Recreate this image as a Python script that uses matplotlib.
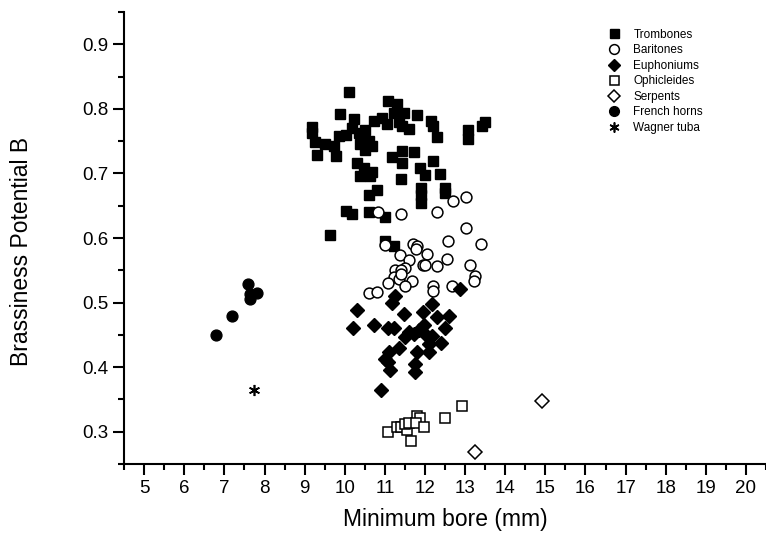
import matplotlib
matplotlib.use("Agg")
import matplotlib.pyplot as plt
from matplotlib.ticker import MultipleLocator

plt.rcParams['font.family'] = ['Liberation Sans', 'DejaVu Sans']

# Trombones
tromb_x = [10.10, 9.89, 9.19, 9.19, 9.27, 9.31, 9.52, 9.77, 9.85, 10.02, 10.22, 10.18, 10.35, 10.51,
           10.72, 10.93, 11.09, 11.30, 11.22, 11.47, 11.05, 11.34, 11.59, 11.43, 11.80, 12.15, 12.21,
           12.30, 13.08, 13.08, 13.43, 13.50, 9.73, 10.39, 10.60, 10.68, 10.51, 10.31, 10.47, 10.68,
           10.39, 10.64, 10.80, 10.60, 11.18, 11.43, 11.72, 11.43, 11.88, 12.01, 12.21, 12.38, 11.39,
           11.91, 11.91, 11.91, 12.50, 12.50, 10.02, 10.18, 10.60, 11.01, 9.64, 11.01, 11.24]
tromb_y = [0.826, 0.792, 0.772, 0.762, 0.748, 0.729, 0.745, 0.727, 0.758, 0.760, 0.784, 0.771, 0.763, 0.768,
           0.781, 0.786, 0.812, 0.807, 0.794, 0.794, 0.776, 0.779, 0.769, 0.773, 0.790, 0.781, 0.773,
           0.757, 0.768, 0.754, 0.774, 0.779, 0.742, 0.745, 0.750, 0.742, 0.737, 0.716, 0.709, 0.703,
           0.696, 0.696, 0.675, 0.667, 0.726, 0.734, 0.733, 0.716, 0.709, 0.698, 0.719, 0.699, 0.691,
           0.677, 0.667, 0.655, 0.677, 0.670, 0.642, 0.637, 0.640, 0.633, 0.605, 0.596, 0.587]

# Baritones
bari_x = [10.83, 11.40, 12.30, 12.71, 13.03, 13.03, 12.57, 13.40, 11.70, 11.80, 11.77, 11.01, 11.37,
          11.59, 12.05, 12.56, 11.95, 12.01, 12.30, 13.11, 11.51, 11.26, 11.39, 11.22, 11.34, 13.25,
          13.21, 11.67, 11.09, 11.49, 12.21, 12.21, 12.67, 10.60, 10.80, 11.39]
bari_y = [0.640, 0.637, 0.640, 0.658, 0.663, 0.615, 0.596, 0.590, 0.591, 0.588, 0.583, 0.589, 0.573,
          0.566, 0.576, 0.567, 0.559, 0.559, 0.556, 0.558, 0.553, 0.551, 0.550, 0.540, 0.537, 0.541,
          0.533, 0.534, 0.530, 0.526, 0.526, 0.518, 0.525, 0.515, 0.516, 0.545]

# Euphoniums
euph_x = [12.88, 11.26, 11.19, 10.31, 11.48, 12.17, 11.94, 12.30, 12.59, 10.20, 10.72, 11.09, 11.22,
          11.59, 11.72, 11.84, 11.97, 12.01, 11.51, 12.17, 12.50, 12.09, 12.40, 11.34, 11.11, 11.80,
          12.10, 11.01, 11.08, 11.76, 11.14, 11.74, 10.91]
euph_y = [0.521, 0.511, 0.500, 0.488, 0.483, 0.498, 0.486, 0.478, 0.480, 0.460, 0.466, 0.461, 0.461,
          0.454, 0.451, 0.457, 0.465, 0.452, 0.447, 0.449, 0.461, 0.436, 0.438, 0.429, 0.424, 0.423,
          0.423, 0.412, 0.408, 0.405, 0.395, 0.392, 0.365]

# Ophicleides
ophi_x = [11.09, 11.30, 11.41, 11.55, 11.51, 11.59, 11.80, 11.88, 11.77, 11.97, 11.65, 12.50, 12.93]
ophi_y = [0.299, 0.307, 0.308, 0.302, 0.312, 0.314, 0.325, 0.321, 0.313, 0.308, 0.286, 0.321, 0.340]

# Serpents
serp_x = [14.91, 13.25]
serp_y = [0.348, 0.268]

# French horns
horn_x = [7.59, 7.82, 7.65, 7.63, 7.18, 6.78]
horn_y = [0.529, 0.515, 0.513, 0.505, 0.479, 0.450]

# Wagner tuba
wag_x = [7.74]
wag_y = [0.365]

fig = plt.figure(figsize=(7.66, 5.34), dpi=100)
ax = fig.add_axes([0.162, 0.131, 0.838, 0.8465])

ax.plot(tromb_x, tromb_y, 's', color='black', markersize=7.2, linestyle='none', label='Trombones')
ax.plot(bari_x, bari_y, 'o', markerfacecolor='white', markeredgecolor='black', markeredgewidth=1.1,
        markersize=7.8, linestyle='none', label='Baritones')
ax.plot(euph_x, euph_y, 'D', color='black', markersize=6.8, linestyle='none', label='Euphoniums')
ax.plot(ophi_x, ophi_y, 's', markerfacecolor='white', markeredgecolor='black', markeredgewidth=1.1,
        markersize=7.2, linestyle='none', label='Ophicleides')
ax.plot(serp_x, serp_y, 'D', markerfacecolor='white', markeredgecolor='black', markeredgewidth=1.1,
        markersize=6.8, linestyle='none', label='Serpents')
ax.plot(horn_x, horn_y, 'o', color='black', markersize=7.8, linestyle='none', label='French horns')
ax.plot(wag_x, wag_y, marker=(6, 2, 0), color='black', markersize=8, markeredgewidth=1.2,
        linestyle='none', label='Wagner tuba')

ax.set_xlim(4.5, 20.5)
ax.set_ylim(0.25, 0.95)
ax.xaxis.set_major_locator(MultipleLocator(1))
ax.xaxis.set_minor_locator(MultipleLocator(0.5))
ax.yaxis.set_minor_locator(MultipleLocator(0.05))
ax.set_yticks([0.3, 0.4, 0.5, 0.6, 0.7, 0.8, 0.9])
ax.set_yticklabels(['0.3', '0.4', '0.5', '0.6', '0.7', '0.8', '0.9'])

for s in ['top', 'right']:
    ax.spines[s].set_visible(False)
for s in ['left', 'bottom']:
    ax.spines[s].set_linewidth(1.5)

ax.tick_params(axis='both', which='major', direction='out', length=8, width=1.5, labelsize=13.5)
ax.tick_params(axis='both', which='minor', direction='out', length=4, width=1.5)

ax.set_xlabel('Minimum bore (mm)', fontsize=16.5, labelpad=8)
ax.set_ylabel('Brassiness Potential B', fontsize=16.5)
ax.yaxis.set_label_coords(-0.142, 0.47)

leg = ax.legend(loc='upper left', bbox_to_anchor=(0.776, 0.962), bbox_transform=fig.transFigure,
                frameon=False, fontsize=8.5, handletextpad=0.6, labelspacing=0.3, numpoints=1,
                markerscale=0.9, borderpad=0.2)

fig.savefig('out.png', dpi=100)
